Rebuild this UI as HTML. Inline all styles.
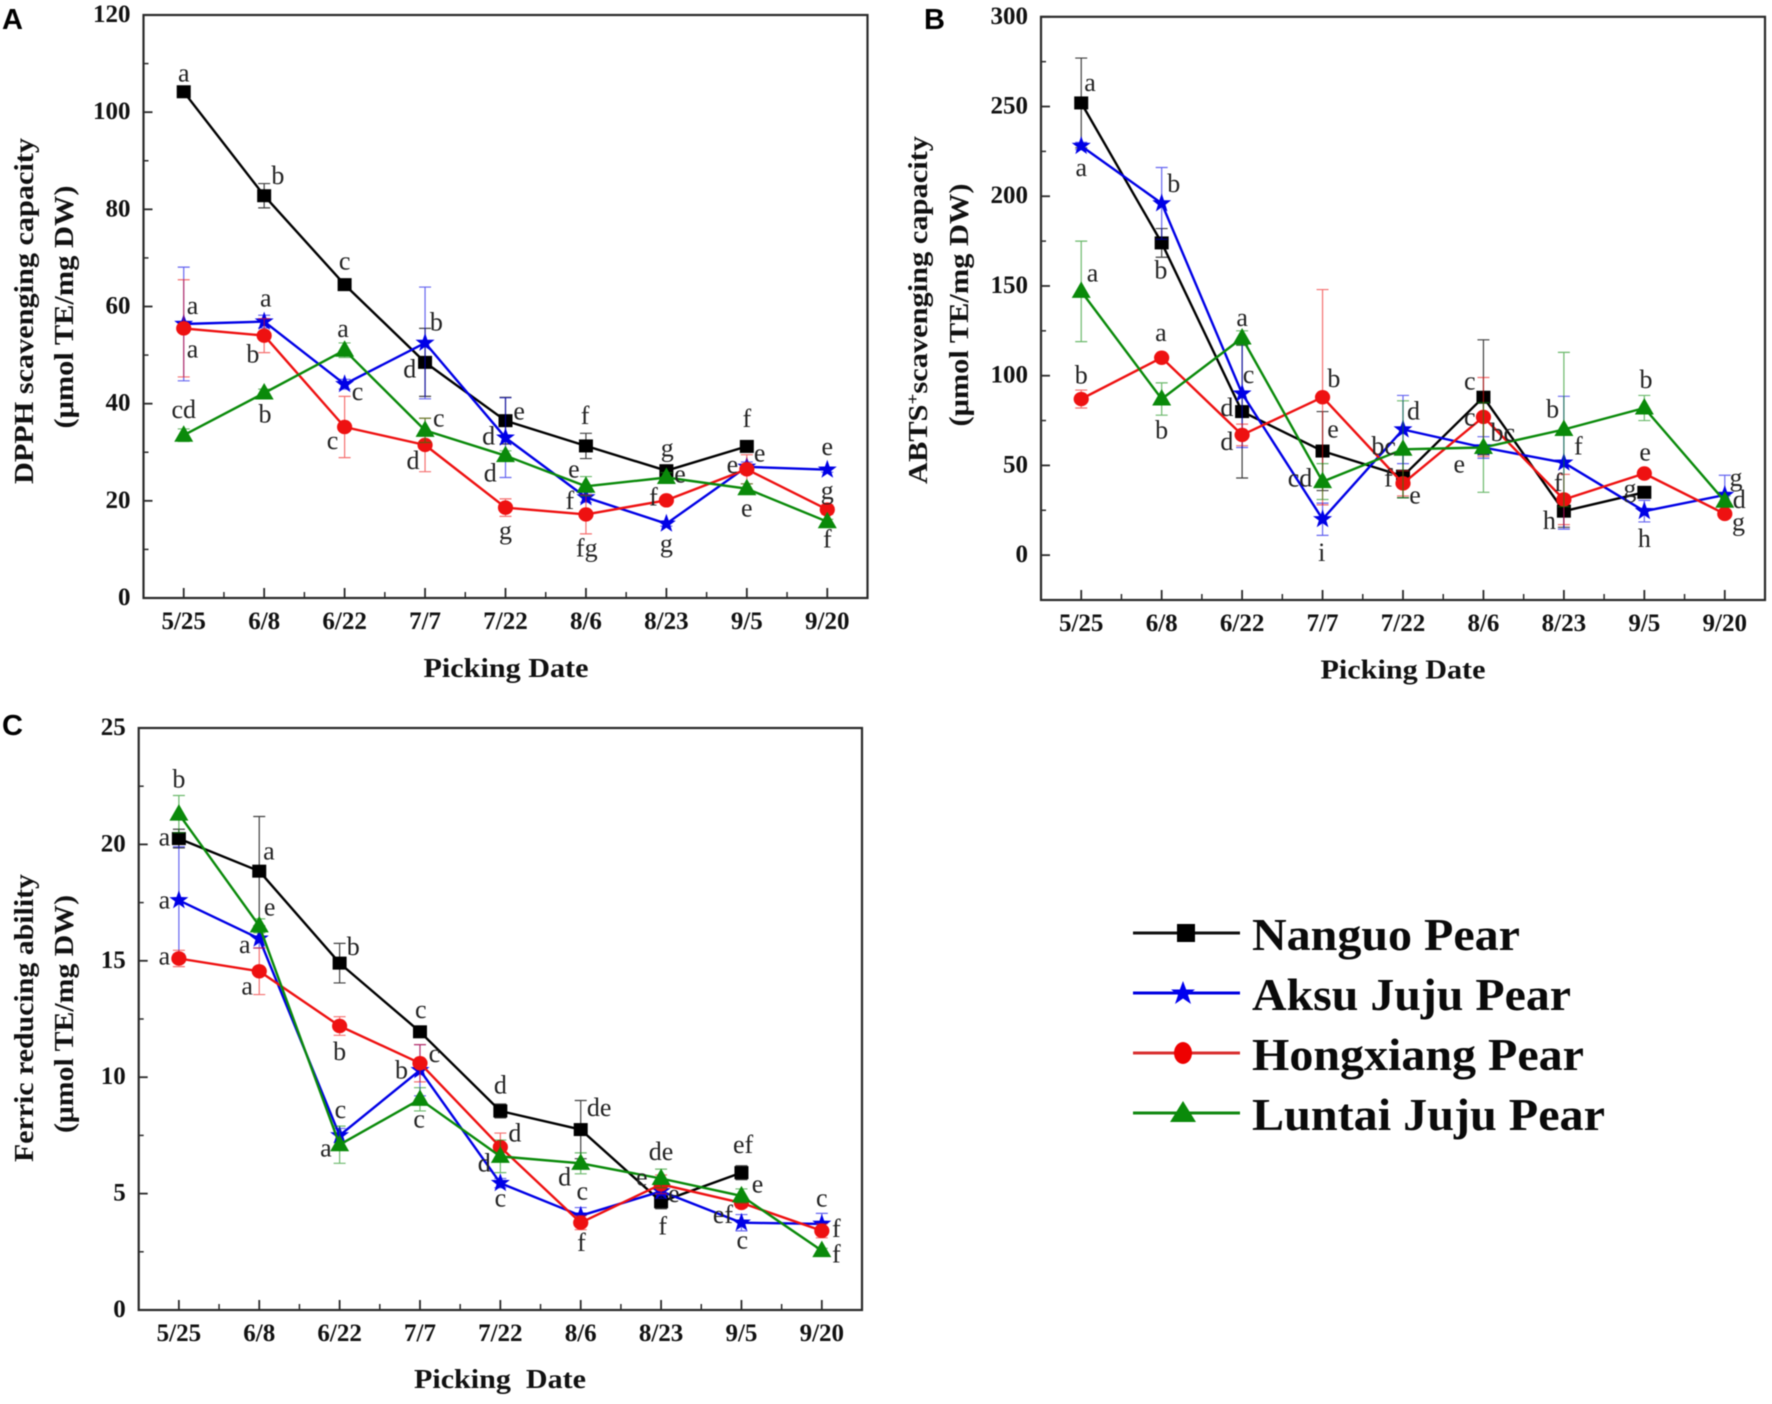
<!DOCTYPE html>
<html lang="en">
<head>
<meta charset="utf-8">
<title>Antioxidant capacity of pear varieties by picking date</title>
<style>
html,body{margin:0;padding:0;background:#fff;width:1772px;height:1404px;overflow:hidden}
#figure{display:block;width:1772px;height:1404px;filter:blur(0.55px)}
text{font-family:"Liberation Serif",serif;fill:#111}
.tick{font-weight:bold;font-size:25px}
.title{font-weight:bold;font-size:27px}
.letter{font-size:26px;fill:#222}
.panel-tag{font-family:"Liberation Sans",sans-serif;font-weight:bold;font-size:29px;fill:#000}
.legend-text{font-weight:bold;font-size:46px;fill:#0a0a0a}
</style>
</head>
<body>
<svg id="figure" xmlns="http://www.w3.org/2000/svg" width="1772" height="1404" viewBox="0 0 1772 1404">
  <g id="legend" transform="translate(-3,-2)">
    <g>
      <line x1="1136" x2="1243" y1="935" y2="935" stroke="#111" stroke-width="3"/>
      <rect x="1180" y="926" width="18" height="18" fill="#000"/>
      <text class="legend-text" x="1255" y="952" textLength="268" lengthAdjust="spacingAndGlyphs">Nanguo Pear</text>
    </g>
    <g>
      <line x1="1136" x2="1243" y1="995" y2="995" stroke="#0000e0" stroke-width="3"/>
      <polygon points="1186,983 1189.2,991.5 1198,991.5 1191,997 1194,1006 1186,1000.5 1178,1006 1181,997 1174,991.5 1182.8,991.5" fill="#0000ee"/>
      <text class="legend-text" x="1255" y="1012" textLength="319" lengthAdjust="spacingAndGlyphs">Aksu Juju Pear</text>
    </g>
    <g>
      <line x1="1136" x2="1243" y1="1055" y2="1055" stroke="#d83030" stroke-width="3"/>
      <ellipse cx="1186" cy="1055" rx="9" ry="11" fill="#ee0000"/>
      <text class="legend-text" x="1255" y="1072" textLength="332" lengthAdjust="spacingAndGlyphs">Hongxiang Pear</text>
    </g>
    <g>
      <line x1="1136" x2="1243" y1="1115" y2="1115" stroke="#118811" stroke-width="3"/>
      <polygon points="1186,1103 1199,1124 1173,1124" fill="#0a8a0a"/>
      <text class="legend-text" x="1255" y="1132" textLength="353" lengthAdjust="spacingAndGlyphs">Luntai Juju Pear</text>
    </g>
  </g>
</svg>
<script>
const categories = ['5/25','6/8','6/22','7/7','7/22','8/6','8/23','9/5','9/20'];

const dpphTicks = [0,20,40,60,80,100,120];
const dpphNanguo = [104.2,82.8,64.5,48.5,36.5,31.3,26.2,31.2];
const dpphNanguoErr = [0,2.5,0.5,7,4.8,2.6,1,1];
const dpphAksu = [56.4,56.9,44,52.5,33,20.7,15.3,27,26.4];
const dpphAksuErr = [11.7,1.3,1,11.5,8.2,1,0.5,1,0.5];
const dpphHongxiang = [55.5,54,35.2,31.5,18.6,17.2,20.1,26.5,18.2];
const dpphHongxiangErr = [10,3.5,6.3,5.5,1.8,4,0.8,3,1];
const dpphLuntai = [33.5,42.2,51,34.5,29.3,23,24.8,22.5,15.7];
const dpphLuntaiErr = [1.3,0.8,1.5,2.5,1,2,1,1,0.5];
const dpphLetters = [[0,107.5,'a'],[1.17,86.4,'b'],[2,68.9,'c'],[0.11,59.7,'a'],[0.11,50.7,'a'],[1.02,61.2,'a'],[0.86,49.7,'b'],[1.98,55,'a'],[0,38.3,'cd'],[1.01,37.4,'b'],[2.16,42,'c'],[1.85,31.9,'c'],[3.14,56.3,'b'],[2.81,46.6,'d'],[3.17,36.5,'c'],[2.85,27.8,'d'],[4.17,38,'e'],[3.79,32.8,'d'],[3.81,25.2,'d'],[4,13.4,'g'],[4.99,37.1,'f'],[4.85,26,'e'],[4.8,19.6,'f'],[5.01,9.8,'fg'],[6.01,30.4,'g'],[6.17,25,'e'],[5.84,20.3,'f'],[6,10.7,'g'],[7,36.4,'f'],[7.16,29.3,'e'],[6.82,27,'e'],[7,18,'e'],[8,30.7,'e'],[8,21.6,'g'],[8,11.6,'f']];

const abtsTicks = [0,50,100,150,200,250,300];
const abtsNanguo = [252,174,80,58,44,88,24.5,35];
const abtsNanguoErr = [25,8,37,22,12,32,9,2];
const abtsAksu = [228,196,90,20,70,60,51.5,24.5,33.5];
const abtsAksuErr = [2,20,30,9,19,6,37,6,11];
const abtsHongxiang = [87,110,67,88,40,77,31,45.5,23];
const abtsHongxiangErr = [5,2,6,60,7,22,14,2,2];
const abtsLuntai = [147,87,121,41,59,60,70,82,30];
const abtsLuntaiErr = [28,9,4,10,27,25,43,7,3];
const abtsLetters = [[0.11,262,'a'],[0,214.6,'a'],[1.15,205.6,'b'],[0.99,157.6,'b'],[0.14,155.9,'a'],[2,131,'a'],[0.99,122.7,'a'],[2.08,99.4,'c'],[0,98.9,'b'],[1.81,81,'d'],[1.81,62,'d'],[1,68.4,'b'],[3.14,97,'b'],[3.13,69,'e'],[2.72,41.5,'cd'],[2.99,0.2,'i'],[4.13,79,'d'],[3.76,59.5,'bc'],[3.82,41.5,'f'],[4.15,32,'e'],[4.83,95.7,'c'],[4.83,75.7,'c'],[5.24,67,'bc'],[4.7,49.5,'e'],[5.86,80,'b'],[6.18,59.5,'f'],[5.93,39,'f'],[5.82,18,'h'],[7.02,96.4,'b'],[7.01,56,'e'],[6.82,35.7,'g'],[7,8,'h'],[8.14,42,'g'],[8.18,29.5,'d'],[8.17,17,'g']];

const frapTicks = [0,5,10,15,20,25];
const frapNanguo = [20.25,18.85,14.9,11.95,8.55,7.75,4.65,5.9];
const frapNanguoErr = [0.4,2.35,0.85,0.2,0.3,1.25,0.3,0.3];
const frapAksu = [17.6,15.95,7.5,10.3,5.45,4.05,5.1,3.75,3.7];
const frapAksuErr = [2.3,0.4,0.3,1.1,0.2,0.35,0.3,0.35,0.45];
const frapHongxiang = [15.1,14.55,12.2,10.6,7,3.75,5.4,4.6,3.4];
const frapHongxiangErr = [0.35,1,0.4,0.8,0.6,0.3,0.4,0.2,0.3];
const frapLuntai = [21.3,16.5,7.1,9.05,6.6,6.3,5.65,4.9,2.55];
const frapLuntaiErr = [0.8,0.3,0.8,0.5,0.7,0.45,0.4,0.3,0.1];
const frapLetters = [[0,22.7,'b'],[-0.18,20.2,'a'],[1.12,19.6,'a'],[1.13,17.2,'e'],[-0.18,17.5,'a'],[-0.18,15.1,'a'],[0.82,15.6,'a'],[0.85,13.8,'a'],[2.17,15.5,'b'],[2,11,'b'],[2.01,8.5,'c'],[1.83,6.85,'a'],[3.01,12.8,'c'],[3.18,10.9,'c'],[2.77,10.2,'b'],[2.99,8.1,'c'],[4,9.55,'d'],[4.18,7.5,'d'],[3.8,6.2,'d'],[4,4.7,'c'],[5.23,8.6,'de'],[4.8,5.6,'d'],[5.02,5,'c'],[5.01,2.8,'f'],[6,6.7,'de'],[5.76,5.6,'e'],[6.16,4.9,'e'],[6.02,3.5,'f'],[7.02,7,'ef'],[7.2,5.3,'e'],[6.77,4,'ef'],[7.01,2.9,'c'],[8,4.7,'c'],[8.18,3.4,'f'],[8.18,2.3,'f']];

const NS = 'http://www.w3.org/2000/svg';
const svg = document.getElementById('figure');

function make(tag, parent, props) {
  const el = document.createElementNS(NS, tag);
  for (const k in props) el.setAttribute(k, props[k]);
  parent.appendChild(el);
  return el;
}

function marker(parent, kind, cx, cy, color) {
  let m;
  if (kind === 'square') {
    m = make('rect', parent, {x: cx - 7, y: cy - 6.5, width: 14, height: 13, fill: color});
  } else if (kind === 'circle') {
    m = make('ellipse', parent, {cx: cx, cy: cy, rx: 7.6, ry: 7.2, fill: color});
  } else if (kind === 'triangle') {
    m = make('polygon', parent, {points: `${cx},${cy-10} ${cx+9.5},${cy+6.5} ${cx-9.5},${cy+6.5}`, fill: color});
  } else {
    const pts = [];
    for (let i = 0; i < 10; i++) {
      const r = i % 2 ? 4 : 10;
      const a = -Math.PI / 2 + i * Math.PI / 5;
      pts.push((cx + r * Math.cos(a)).toFixed(1) + ',' + (cy + r * Math.sin(a)).toFixed(1));
    }
    m = make('polygon', parent, {points: pts.join(' '), fill: color});
  }
  
  
}

function drawPanel(p) {
  const g = make('g', svg, {});
  
  

  const step = (p.right - p.left) / categories.length;
  const xAt = i => p.left + (i + 0.5) * step;
  const yAt = v => p.bottom - (v - p.yMin) / (p.yMax - p.yMin) * (p.bottom - p.top);

  const tag = make('text', g, {class: 'panel-tag', x: p.tagX, y: p.tagY});
  
  
  tag.textContent = p.tag;

  const frame = make('rect', g, {x: p.left, y: p.top, width: p.right - p.left, height: p.bottom - p.top, fill: 'none', stroke: '#2a2a2a', 'stroke-width': 2.2});
  
  

  const yAxis = make('g', g, {});
  
  
  p.ticks.forEach((t, i) => {
    const y = yAt(t);
    make('line', yAxis, {x1: p.left, x2: p.left + 9, y1: y, y2: y, stroke: '#2a2a2a', 'stroke-width': 1.8});
    if (i > 0) {
      const my = yAt((t + p.ticks[i - 1]) / 2);
      make('line', yAxis, {x1: p.left, x2: p.left + 5, y1: my, y2: my, stroke: '#2a2a2a', 'stroke-width': 1.5});
    }
    const lab = make('text', yAxis, {class: 'tick', x: p.left - 13, y: y + 7, 'text-anchor': 'end'});
    
    
    lab.textContent = t;
  });

  const xAxis = make('g', g, {});
  
  
  categories.forEach((c, i) => {
    const x = xAt(i);
    make('line', xAxis, {x1: x, x2: x, y1: p.bottom, y2: p.bottom - 10, stroke: '#2a2a2a', 'stroke-width': 1.8});
    if (i < categories.length - 1) {
      make('line', xAxis, {x1: x + step / 2, x2: x + step / 2, y1: p.bottom, y2: p.bottom - 6, stroke: '#2a2a2a', 'stroke-width': 1.5});
    }
    const lab = make('text', xAxis, {class: 'tick', x: x, y: p.bottom + 31, 'text-anchor': 'middle'});
    
    
    lab.textContent = c;
  });

  const xt = make('text', g, {class: 'title', x: p.xTitleX, y: p.xTitleY, 'text-anchor': 'middle', textLength: p.xTitleLen, lengthAdjust: 'spacingAndGlyphs'});
  
  
  xt.setAttribute('xml:space', 'preserve');
  xt.style.whiteSpace = 'pre';
  xt.textContent = p.xTitle;

  p.yTitles.forEach((t, i) => {
    const yt = make('text', g, {class: 'title', 'text-anchor': 'middle', transform: `translate(${t.x},${t.y}) rotate(-90)`, textLength: t.len, lengthAdjust: 'spacingAndGlyphs'});
    
    
    if (t.sup) {
      yt.appendChild(document.createTextNode(t.before));
      const s = make('tspan', yt, {dy: -9, 'font-size': 17});
      s.textContent = t.sup;
      const r = make('tspan', yt, {dy: 9});
      r.textContent = t.after;
    } else {
      yt.textContent = t.text;
    }
  });

  p.series.forEach(s => {
    const sg = make('g', g, {});
    
    
    s.values.forEach((v, i) => {
      const e = s.errors[i];
      if (!e) return;
      const x = xAt(i);
      const bar = make('path', sg, {d: `M${x} ${yAt(v + e)}V${yAt(v - e)}M${x - 6} ${yAt(v + e)}H${x + 6}M${x - 6} ${yAt(v - e)}H${x + 6}`, fill: 'none', stroke: s.color, 'stroke-width': 1.2, 'stroke-opacity': s.errOpacity});
      
      
    });
    const d = s.values.map((v, i) => (i ? 'L' : 'M') + xAt(i).toFixed(1) + ' ' + yAt(v).toFixed(1)).join('');
    const line = make('path', sg, {d: d, fill: 'none', stroke: s.color, 'stroke-width': 2.4, 'stroke-linejoin': 'round'});
    
    
    s.values.forEach((v, i) => marker(sg, s.kind, xAt(i), yAt(v), s.color));
  });

  const lg = make('g', g, {});
  
  
  p.letters.forEach(l => {
    const t = make('text', lg, {class: 'letter', x: xAt(l[0]), y: yAt(l[1]) + 6, 'text-anchor': 'middle'});
    
    
    t.textContent = l[2];
  });
}

const styleFor = [
  {name: 'nanguo', kind: 'square', color: '#000000', errOpacity: 0.75},
  {name: 'aksu', kind: 'star', color: '#0000e6', errOpacity: 0.6},
  {name: 'hongxiang', kind: 'circle', color: '#ee1111', errOpacity: 0.6},
  {name: 'luntai', kind: 'triangle', color: '#0a8a0a', errOpacity: 0.6}
];
function withStyle(sets) {
  return sets.map((s, i) => Object.assign({values: s[0], errors: s[1]}, styleFor[i]));
}

drawPanel({
  id: 'a-dpph', tag: 'A', tagX: 2, tagY: 29,
  left: 143.5, right: 867.5, top: 15, bottom: 598, yMin: 0, yMax: 120,
  ticks: dpphTicks, letters: dpphLetters,
  xTitle: 'Picking Date', xTitleX: 506, xTitleY: 677, xTitleLen: 165,
  yTitles: [{text: 'DPPH scavenging capacity', x: 33, y: 311, len: 346},
            {text: '(μmol TE/mg DW)', x: 73, y: 307, len: 243}],
  series: withStyle([[dpphNanguo, dpphNanguoErr], [dpphAksu, dpphAksuErr], [dpphHongxiang, dpphHongxiangErr], [dpphLuntai, dpphLuntaiErr]])
});

drawPanel({
  id: 'b-abts', tag: 'B', tagX: 924, tagY: 29,
  left: 1041, right: 1765, top: 16.8, bottom: 600, yMin: -25, yMax: 300,
  ticks: abtsTicks, letters: abtsLetters,
  xTitle: 'Picking Date', xTitleX: 1403, xTitleY: 678.5, xTitleLen: 165,
  yTitles: [{before: 'ABTS', sup: '+', after: 'scavenging capacity', x: 927, y: 310, len: 348},
            {text: '(μmol TE/mg DW)', x: 968, y: 305, len: 243}],
  series: withStyle([[abtsNanguo, abtsNanguoErr], [abtsAksu, abtsAksuErr], [abtsHongxiang, abtsHongxiangErr], [abtsLuntai, abtsLuntaiErr]])
});

drawPanel({
  id: 'c-ferric', tag: 'C', tagX: 2, tagY: 735,
  left: 138.7, right: 862, top: 728, bottom: 1310, yMin: 0, yMax: 25,
  ticks: frapTicks, letters: frapLetters,
  xTitle: 'Picking  Date', xTitleX: 500, xTitleY: 1388, xTitleLen: 172,
  yTitles: [{text: 'Ferric reducing ability', x: 33, y: 1018, len: 288},
            {text: '(μmol TE/mg DW)', x: 73, y: 1014, len: 238}],
  series: withStyle([[frapNanguo, frapNanguoErr], [frapAksu, frapAksuErr], [frapHongxiang, frapHongxiangErr], [frapLuntai, frapLuntaiErr]])
});
</script>
</body>
</html>
